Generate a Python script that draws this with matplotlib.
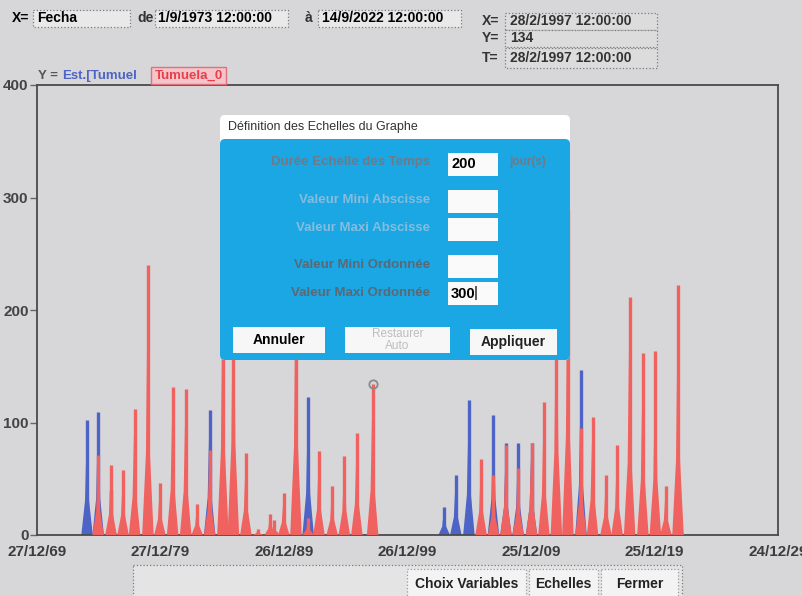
"""Hydrograph screen capture: annual peaks (Tumuela) with the scale dialog on top."""

import matplotlib
matplotlib.use("Agg")
import matplotlib.pyplot as plt
import matplotlib.dates as mdates
import pandas as pd
from matplotlib.patches import Rectangle, FancyBboxPatch

SANS = ["Liberation Sans", "DejaVu Sans"]

BG = "#d7d7d9"
RED = "#f0625f"
BLUE = "#4d63c6"
DIALOG = "#1ba6e4"

# annual peaks (values hidden by the dialog are estimates)
red_dates = [
    "1974-12-10", "1975-12-25", "1976-12-15", "1977-11-20", "1978-12-20",
    "1979-12-10", "1980-12-20", "1982-01-10", "1982-12-15", "1983-12-20",
    "1985-01-15", "1985-11-20", "1986-11-25", "1987-11-20", "1988-11-15",
    "1989-03-10", "1989-12-20", "1990-12-15", "1991-12-10", "1992-10-25",
    "1993-11-20", "1994-11-15", "1995-11-20", "1997-02-28",
    "2005-12-10", "2006-12-10", "2007-12-15", "2008-12-10", "2010-01-10",
    "2011-01-10", "2012-01-15", "2012-12-20", "2014-01-10", "2014-12-20",
    "2016-01-20", "2016-12-15", "2017-12-20", "2019-01-15", "2020-01-20",
    "2020-11-25", "2021-11-20",
]
red_peaks = [
    71, 62, 58, 112, 240,
    46, 132, 130, 28, 76,
    250, 270, 73, 5, 19,
    13, 37, 260, 15, 75,
    44, 70, 91, 134,
    68, 53, 80, 60, 82,
    118, 245, 290, 95, 105,
    53, 80, 212, 162, 164,
    44, 222,
]
blue_dates = [
    "1974-01-15", "1974-12-10", "1975-12-25", "1983-12-20", "1991-12-10",
    "2002-12-15", "2003-11-25", "2004-12-15", "2006-12-10", "2007-12-15",
    "2008-12-10", "2010-01-10", "2014-01-10",
]
blue_peaks = [102, 109, 40, 111, 123, 25, 53, 120, 107, 82, 82, 82, 147]

x_tick_dates = ["1969-12-27", "1979-12-27", "1989-12-26", "1999-12-26",
                "2009-12-25", "2019-12-25", "2029-12-24"]
x_tick_labels = ["27/12/69", "27/12/79", "26/12/89", "26/12/99",
                 "25/12/09", "25/12/19", "24/12/29"]
y_ticks = [0, 100, 200, 300, 400]
y_tick_labels = ["0", "100", "200", "300", "400"]

cursor_date = "1997-02-28"
cursor_value = 134


def draw_spikes(ax, dates, peaks, color, z):
    xs = mdates.date2num(pd.to_datetime(dates))
    half = 170  # days, half width of the hump at the base
    for x, h in zip(xs, peaks):
        shoulder = 0.3 * h
        ax.fill([x - half, x - half * 0.35, x, x + half * 0.35, x + half],
                [0, shoulder, h, shoulder, 0], color=color, lw=0, zorder=z)
        ax.vlines(x, 0, h, color=color, lw=2.4, zorder=z)


W, H = 802, 596
fig = plt.figure(figsize=(W / 100, H / 100), dpi=100, facecolor=BG)

# --- chart ---------------------------------------------------------------
left, right, top, bottom = 37, 778, 85, 535
ax = fig.add_axes([left / W, 1 - bottom / H, (right - left) / W, (bottom - top) / H])
ax.set_facecolor(BG)
draw_spikes(ax, blue_dates, blue_peaks, BLUE, 2)
draw_spikes(ax, red_dates, red_peaks, RED, 3)
ax.plot(mdates.date2num(pd.Timestamp(cursor_date)), cursor_value, "o", ms=6,
        mfc="none", mec="#8a8a8a", mew=1.3, zorder=4)

ax.set_xlim(mdates.date2num(pd.Timestamp(x_tick_dates[0])),
            mdates.date2num(pd.Timestamp(x_tick_dates[-1])))
ax.set_ylim(0, 400)
ax.set_xticks(mdates.date2num(pd.to_datetime(x_tick_dates)))
ax.set_xticklabels(x_tick_labels, family=SANS, weight="bold", fontsize=11, color="#3c3c3c")
ax.set_yticks(y_ticks)
ax.set_yticklabels(y_tick_labels, family=SANS, weight="bold", fontsize=11, color="#444444")
ax.tick_params(axis="x", length=0, pad=7)
ax.tick_params(axis="y", length=5, width=1, color="#666666", pad=1)
for name, sp in ax.spines.items():
    sp.set_color("#4a4a4a")
    sp.set_linewidth(1.3)
ax.spines["right"].set_linestyle((0, (2, 1)))

# --- screen furniture, in pixel coordinates ---------------------------------
ui = fig.add_axes([0, 0, 1, 1], zorder=10)
ui.set_xlim(0, W)
ui.set_ylim(H, 0)
ui.axis("off")


def box(x, y, w, h, fc, ec="#7a7a7a", ls=":", lw=0.9, z=1):
    ui.add_patch(Rectangle((x, y), w, h, facecolor=fc, edgecolor=ec,
                           linestyle=ls, linewidth=lw, zorder=z))


def txt(x, y, s, size=10, color="black", ha="left", weight="bold", z=5):
    ui.text(x, y, s, fontsize=size, color=color, ha=ha, va="center",
            family=SANS, weight=weight, zorder=z)


# top fields
txt(12, 18, "X=")
box(33, 10, 97, 17, "#e9e9e9")
txt(37, 18, "Fecha")
txt(137, 18, "de", color="#333333")
box(155, 10, 133, 17, "#e9e9e9")
txt(158, 18, "1/9/1973 12:00:00")
txt(305, 18, "à", color="#333333")
box(318, 10, 143, 17, "#e9e9e9")
txt(322, 18, "14/9/2022 12:00:00")

txt(482, 21, "X=", color="#333333")
box(505, 13, 152, 17, "#dcdcdc")
txt(510, 21, "28/2/1997 12:00:00", color="#333333")
txt(482, 38, "Y=", color="#333333")
box(505, 30, 152, 17, "#dcdcdc")
txt(510, 38, "134", color="#333333")
txt(482, 58, "T=", color="#333333")
box(505, 48, 152, 20, "#dcdcdc")
txt(510, 58, "28/2/1997 12:00:00", color="#333333")

# series legend above the plot
txt(38, 76, "Y =", size=9.5, color="#555555")
txt(62, 76, "Est.[Tumuel", size=9.5, color=BLUE)
box(151, 67, 75, 17, "#f3c4ca", ec="#e0707a", ls="-", lw=1.0)
txt(155, 76, "Tumuela_0", size=9.5, color="#e8404a")

# dialog
ui.add_patch(FancyBboxPatch((220, 115), 350, 245, boxstyle="round,pad=0,rounding_size=5",
                            fc="white", ec="none", zorder=3))
ui.add_patch(FancyBboxPatch((220, 139), 350, 221, boxstyle="round,pad=0,rounding_size=5",
                            fc=DIALOG, ec="none", zorder=3))
txt(228, 127, "Définition des Echelles du Graphe", size=9, color="#333333", weight="normal")

rows = [
    ("Durée Echelle des Temps", 162, 153, 23, "200", "#6e7a88"),
    ("Valeur Mini Abscisse", 200, 190, 23, "", "#86bcdc"),
    ("Valeur Maxi Abscisse", 228, 218, 23, "", "#86bcdc"),
    ("Valeur Mini Ordonnée", 265, 255, 23, "", "#5c6872"),
    ("Valeur Maxi Ordonnée", 293, 282, 23, "300", "#5c6872"),
]
for label, ty, by, bh, val, col in rows:
    txt(430, ty, label, size=9.5, color=col, ha="right")
    box(448, by, 50, bh, "#fafafa", ec="none", ls="-", z=4)
    if val:
        txt(451, by + bh / 2, val, size=10.5, z=6)
txt(474, 293, "|", size=11, weight="normal", z=7)
txt(509, 162, "jour(s)", size=8.5, color="#6e7a88")

for x0, w0, y0, label, col in [(233, 92, 327, "Annuler", "black"),
                               (345, 105, 327, "Restaurer\nAuto", "#bdbdbd"),
                               (470, 87, 329, "Appliquer", "#222222")]:
    box(x0, y0, w0, 26, "#f7f7f7", ec="none", ls="-", z=4)
    ui.text(x0 + w0 / 2, y0 + 13, label, fontsize=10 if col != "#bdbdbd" else 8.5,
            color=col, ha="center", va="center", family=SANS,
            weight="bold" if col != "#bdbdbd" else "normal", zorder=6, linespacing=1.1)

# bottom button bar
box(133, 565, 549, 40, "#e4e4e4")
for x0, w0, label in [(407, 119, "Choix Variables"), (529, 69, "Echelles"), (601, 77, "Fermer")]:
    box(x0, 569, w0, 30, "#f3f3f3", ec="#9a9a9a", z=2)
    txt(x0 + w0 / 2, 584, label, size=10, ha="center", color="#222222")

fig.savefig("out.png", dpi=100, facecolor=BG)
